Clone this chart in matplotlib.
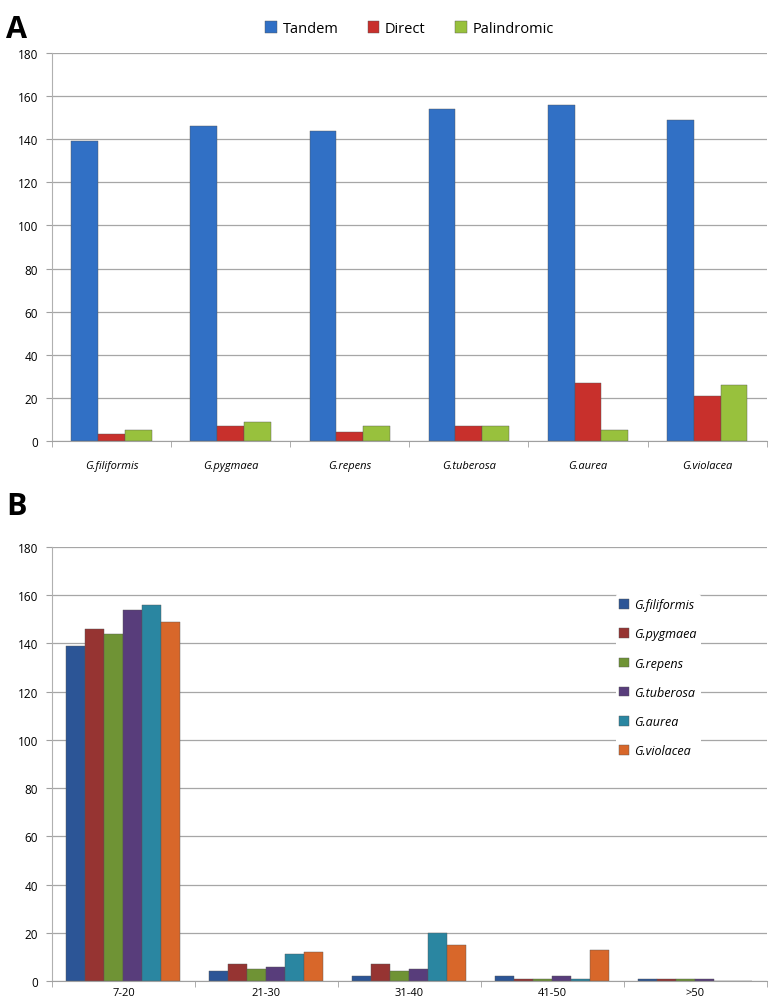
import numpy as np
import matplotlib.pyplot as plt

plt.rcParams['font.family'] = ['Open Sans', 'DejaVu Sans']

# panel A
species = ['G.filiformis', 'G.pygmaea', 'G.repens', 'G.tuberosa', 'G.aurea', 'G.violacea']
tandem = [139, 146, 144, 154, 156, 149]
direct = [3, 7, 4, 7, 27, 21]
palindromic = [5, 9, 7, 7, 5, 26]

# panel B
size_classes = ['7-20', '21-30', '31-40', '41-50', '>50']
filiformis = [139, 4, 2, 2, 1]
pygmaea = [146, 7, 7, 1, 1]
repens = [144, 5, 4, 1, 1]
tuberosa = [154, 6, 5, 2, 1]
aurea = [156, 11, 20, 1, 0]
violacea = [149, 12, 15, 13, 0]

colorsA = ['#3170C5', '#C8302C', '#98C13D']
colorsB = ['#2C5596', '#963432', '#6F9335', '#583D7B', '#2A86A1', '#D8672A']

fig = plt.figure(figsize=(7.71, 10.04), dpi=100)


def style_axis(ax, n, xpad):
    ax.set_ylim(0, 180)
    ax.set_yticks(np.arange(0, 181, 20))
    ax.set_xlim(-0.5, n - 0.5)
    ax.set_xticks(np.arange(n))
    ax.set_xticks(np.arange(n + 1) - 0.5, minor=True)
    ax.tick_params(axis='x', which='major', length=0, pad=xpad)
    ax.tick_params(axis='x', which='minor', length=4, color='#A0A0A0')
    ax.tick_params(axis='y', length=4, color='#A0A0A0', labelsize=8.5, pad=6)
    ax.yaxis.grid(True, color='#A6A6A6', linewidth=0.9)
    ax.set_axisbelow(True)
    for s in ['top', 'right']:
        ax.spines[s].set_visible(False)
    ax.spines['left'].set_color('#B0B0B0')
    ax.spines['bottom'].set_color('#A0A0A0')


# ---- A
axA = fig.add_axes([0.0674, 0.5598, 0.927, 0.3864])
x = np.arange(len(species))
w = 0.225
seriesA = [tandem, direct, palindromic]
namesA = ['Tandem', 'Direct', 'Palindromic']
for i, (vals, nm) in enumerate(zip(seriesA, namesA)):
    axA.bar(x + (i - 1) * w, vals, w, color=colorsA[i], label=nm,
            edgecolor='#555555', linewidth=0.3)
style_axis(axA, len(species), 14)
axA.set_xticklabels(species, style='italic', fontsize=8)
axA.legend(loc='lower center', bbox_to_anchor=(0.5, 1.01), ncol=3, frameon=False,
           fontsize=10.5, handlelength=0.8, handleheight=0.8, columnspacing=2.0,
           handletextpad=0.4)
fig.text(0.008, 0.962, 'A', fontsize=22, fontweight='bold')

# ---- B
axB = fig.add_axes([0.0674, 0.0219, 0.927, 0.4323])
xb = np.arange(len(size_classes))
wb = 0.133
seriesB = [filiformis, pygmaea, repens, tuberosa, aurea, violacea]
for i, vals in enumerate(seriesB):
    axB.bar(xb + (i - 2.5) * wb, vals, wb, color=colorsB[i], label=species[i],
            edgecolor='#555555', linewidth=0.3)
style_axis(axB, len(size_classes), 4)
axB.set_xticklabels(size_classes, fontsize=8)
legB = axB.legend(loc='upper left', bbox_to_anchor=(0.78, 0.905), frameon=True,
                  fontsize=9, handlelength=0.8, handleheight=0.8, labelspacing=1.3,
                  handletextpad=0.4, borderpad=0.3)
legB.get_frame().set_facecolor('white')
legB.get_frame().set_edgecolor('none')
legB.get_frame().set_alpha(1)
for t in legB.get_texts():
    t.set_style('italic')
fig.text(0.008, 0.487, 'B', fontsize=22, fontweight='bold')

fig.savefig('out.png', dpi=100)
